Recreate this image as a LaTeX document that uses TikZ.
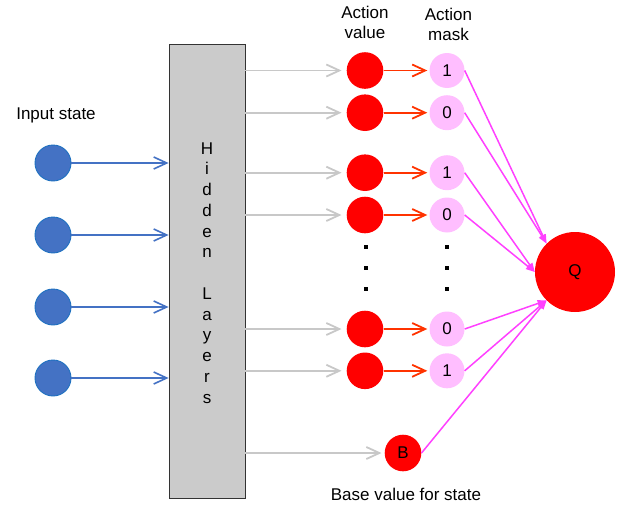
\documentclass[tikz,border=0pt]{standalone}
\usepackage{fontspec}
\setmainfont{Liberation Sans}
\usetikzlibrary{arrows.meta}
\definecolor{inblue}{RGB}{68,114,196}
\definecolor{inedge}{RGB}{30,112,192}
\definecolor{boxgray}{RGB}{203,203,203}
\definecolor{wiregray}{RGB}{200,200,200}
\definecolor{valred}{RGB}{255,0,0}
\definecolor{arrred}{RGB}{255,51,0}
\definecolor{maskpink}{RGB}{255,190,255}
\definecolor{outmag}{RGB}{255,64,255}
\tikzset{
  lbl/.style={font=\fontsize{17}{20.75}\selectfont, text=black, inner sep=0pt},
  inunit/.style={circle, fill=inblue, draw=inedge, line width=0.9pt, minimum size=36pt, inner sep=0pt},
  valunit/.style={circle, fill=valred, minimum size=36.6pt, inner sep=0pt},
  maskunit/.style={circle, fill=maskpink, minimum size=35pt, inner sep=0pt, lbl},
  inarrow/.style={draw=inblue, line width=1.6pt, -{Straight Barb[length=13pt,width=12pt]}},
  hidarrow/.style={draw=wiregray, line width=1.8pt, -{Straight Barb[length=13pt,width=12pt]}},
  valarrow/.style={draw=arrred, line width=1.8pt, -{Straight Barb[length=13pt,width=12pt]}},
  outarrow/.style={draw=outmag, line width=1.5pt, -{Triangle[length=9pt,width=6.5pt]}},
}
\begin{document}
\begin{tikzpicture}[x=1pt, y=-1pt]
\useasboundingbox (0,0) rectangle (619,506);

% hidden layer block
\node[draw={rgb,255:red,51;green,51;blue,51}, fill=boxgray, line width=0.8pt,
      minimum width=76pt, minimum height=454pt, inner sep=0pt] (hid) at (207,271) {};
\foreach \ch/\yy [count=\k] in {H/154,i/174.75,d/195.5,d/216.25,e/237,n/257.75,
    L/299.25,a/320,y/340.75,e/361.5,r/382.25,s/403}
  \node[lbl, anchor=base] (hl\k) at (207,\yy) {\ch};

% input state
\node[lbl, anchor=base] (inlabel) at (56,119) {Input state};
\foreach \k/\yy in {1/163,2/235,3/307,4/378}{
  \node[inunit] (in\k) at (53,\yy) {};
  \draw[inarrow] (in\k) -- (hid.west |- in\k);
}

% action values and masks
\node[lbl, anchor=base] (avlabel) at (365,18.5) {Action};
\node[lbl, anchor=base] (avlabel2) at (365,38.5) {value};
\node[lbl, anchor=base] (amlabel) at (448.5,20) {Action};
\node[lbl, anchor=base] (amlabel2) at (448.5,40) {mask};

\foreach \k/\yy/\bit in {1/70.5/1,2/112.7/0,3/172.7/1,4/215/0,5/329/0,6/370.8/1}{
  \node[valunit] (v\k) at (365,\yy) {};
  \node[maskunit] (m\k) at (447,\yy) {\bit};
  \draw[hidarrow, shorten >=5pt] (hid.east |- v\k) -- (v\k);
  \draw[valarrow, shorten >=2pt] (v\k) -- (m\k);
}

% ellipsis dots
\foreach \xx in {366,447}
  \foreach \yy in {247,268,289}
    \fill (\xx-2.3,\yy-2.3) rectangle (\xx+2.3,\yy+2.3);

% base value and output
\node[valunit, lbl] (b) at (403,453) {B};
\node[lbl, anchor=base] (blabel) at (406,500) {Base value for state};
\draw[hidarrow, shorten >=3pt] (hid.east |- b) -- (b);

\node[circle, fill=valred, minimum size=80pt, inner sep=0pt, lbl] (q) at (575,272) {Q};

\draw[outarrow] (m1.east) -- (q.135);
\draw[outarrow] (m2.east) -- (q.135);
\draw[outarrow] (m3.east) -- (q.west);
\draw[outarrow] (m4.east) -- (q.west);
\draw[outarrow] (m5.east) -- (q.225);
\draw[outarrow] (m6.east) -- (q.225);
\draw[outarrow] (b.east) -- (q.225);
\end{tikzpicture}
\end{document}
